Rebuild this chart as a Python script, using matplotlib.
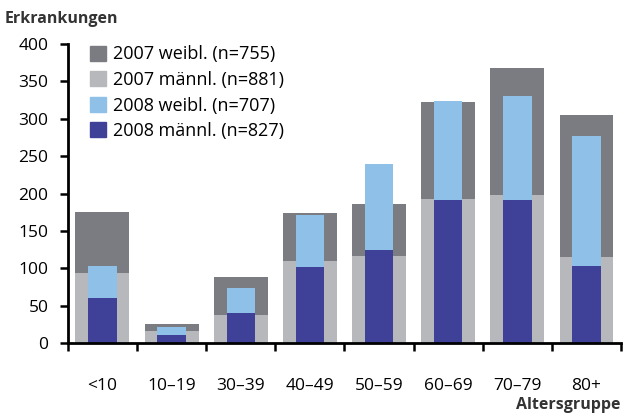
import numpy as np
import matplotlib
matplotlib.use('Agg')
import matplotlib.pyplot as plt
from matplotlib.patches import Patch

plt.rcParams['font.family'] = ['Open Sans', 'DejaVu Sans']

gruppen = ['<10', '10–19', '30–39', '40–49', '50–59', '60–69', '70–79', '80+']
m2007 = [93, 16, 37, 110, 116, 193, 198, 115]
w2007 = [82, 9, 51, 64, 70, 129, 170, 190]
m2008 = [60, 11, 40, 102, 124, 192, 191, 103]
w2008 = [43, 10, 34, 69, 115, 132, 139, 174]
legende = ['2007 weibl. (n=755)', '2007 männl. (n=881)',
           '2008 weibl. (n=707)', '2008 männl. (n=827)']

c_w07, c_m07 = '#7b7c82', '#b7b8bc'
c_w08, c_m08 = '#8ec0e8', '#3f4199'

fig = plt.figure(figsize=(6.28, 4.16), dpi=100)
ax = fig.add_axes([0.108, 0.1755, 0.881, 0.7185])

x = np.arange(len(gruppen))
ax.bar(x, m2007, width=0.78, color=c_m07)
ax.bar(x, w2007, width=0.78, bottom=m2007, color=c_w07)
ax.bar(x, m2008, width=0.41, color=c_m08)
ax.bar(x, w2008, width=0.41, bottom=m2008, color=c_w08)

ax.set_xlim(-0.5, len(gruppen) - 0.5)
ax.set_ylim(0, 400)
ax.set_yticks(range(0, 401, 50))
ax.set_xticks(x)
ax.set_xticklabels(gruppen)
ax.set_xticks(np.arange(-0.5, len(gruppen)), minor=True)
ax.tick_params(axis='x', which='major', length=0, pad=25, labelsize=12.5)
ax.tick_params(axis='x', which='minor', length=6, width=1.8, direction='out')
ax.tick_params(axis='y', length=6, width=1.8, pad=8, labelsize=12.5)

for s in ['top', 'right']:
    ax.spines[s].set_visible(False)
for s in ['left', 'bottom']:
    ax.spines[s].set_linewidth(2)

handles = [Patch(color=c) for c in [c_w07, c_m07, c_w08, c_m08]]
ax.legend(handles, legende, loc='upper left', bbox_to_anchor=(0.01, 1.05),
          frameon=False, fontsize=13, handlelength=0.9, handleheight=0.9,
          handletextpad=0.4, labelspacing=0.42)

fig.text(0.008, 0.945, 'Erkrankungen', fontsize=11.5, fontweight='bold', color='#333333')
fig.text(0.988, 0.008, 'Altersgruppe', fontsize=11.5, fontweight='bold',
         color='#333333', ha='right', va='bottom')

fig.savefig('out.png', dpi=100)
